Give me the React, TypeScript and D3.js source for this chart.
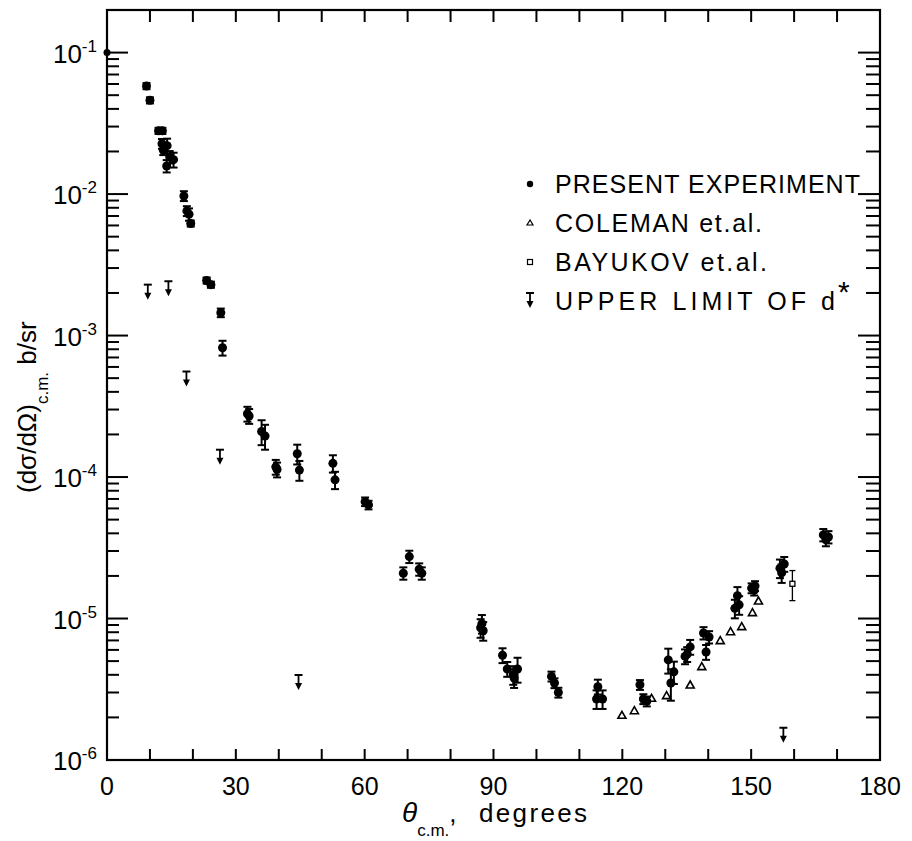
import React from "react";
import * as d3 from "d3";

// present experiment: angle (deg), cross section (b/sr), relative error
const presentTheta = [0, 9.2, 10.0, 12.0, 12.9, 12.8, 13.1, 14.0, 14.6, 15.5, 13.9, 17.9, 18.6, 19.1, 19.5, 23.2, 24.2, 26.5, 26.9, 32.7, 33.1, 36.0, 36.8, 39.3, 39.6, 44.3, 44.8, 52.6, 53.1, 60.1, 60.9, 69.0, 70.4, 72.7, 73.3, 87.0, 87.6, 87.3, 92.1, 93.2, 94.6, 95.6, 94.8, 103.5, 104.2, 105.1, 114.3, 114.0, 115.4, 124.1, 124.9, 125.7, 130.7, 131.3, 132.0, 134.6, 135.1, 135.8, 138.9, 140.2, 139.5, 146.2, 146.8, 147.2, 150.1, 150.9, 150.7, 156.7, 157.7, 157.1, 166.8, 168.0, 167.4];
const presentSigma = [0.1, 0.058, 0.046, 0.028, 0.028, 0.0227, 0.0205, 0.022, 0.0183, 0.0175, 0.0158, 0.0097, 0.0076, 0.0072, 0.0062, 0.00245, 0.00229, 0.00145, 0.00082, 0.00028, 0.00027, 0.00021, 0.000195, 0.000118, 0.000113, 0.000146, 0.000112, 0.000125, 0.0000955, 0.000067, 0.0000635, 0.0000209, 0.0000274, 0.0000223, 0.0000209, 0.0000086, 0.0000082, 0.0000092, 0.0000055, 0.0000044, 0.000004, 0.0000044, 0.0000038, 0.0000039, 0.0000035, 0.000003, 0.0000033, 0.0000027, 0.0000027, 0.0000034, 0.0000027, 0.0000026, 0.0000051, 0.0000035, 0.0000042, 0.0000054, 0.0000056, 0.0000063, 0.0000079, 0.0000074, 0.0000058, 0.0000118, 0.0000145, 0.0000125, 0.0000164, 0.000017, 0.0000158, 0.0000227, 0.0000243, 0.000021, 0.000039, 0.0000377, 0.000036];
const presentErr = [0, 0.05, 0.05, 0.05, 0.05, 0.08, 0.08, 0.12, 0.1, 0.12, 0.1, 0.08, 0.08, 0.1, 0.05, 0.05, 0.05, 0.07, 0.12, 0.12, 0.12, 0.2, 0.2, 0.12, 0.12, 0.16, 0.16, 0.14, 0.14, 0.07, 0.07, 0.1, 0.1, 0.1, 0.1, 0.15, 0.15, 0.15, 0.12, 0.12, 0.15, 0.2, 0.15, 0.08, 0.08, 0.08, 0.12, 0.15, 0.15, 0.08, 0.08, 0.08, 0.2, 0.25, 0.18, 0.12, 0.12, 0.12, 0.1, 0.1, 0.12, 0.15, 0.15, 0.15, 0.08, 0.08, 0.08, 0.15, 0.12, 0.15, 0.1, 0.1, 0.1];

const colemanTheta = [119.9, 122.8, 126.8, 130.3, 135.8, 138.5, 142.8, 145.2, 147.8, 150.3, 151.7];
const colemanSigma = [2.07e-6, 2.23e-6, 2.73e-6, 2.85e-6, 3.39e-6, 4.57e-6, 6.98e-6, 8.07e-6, 8.77e-6, 1.1e-5, 1.33e-5];

const bayukovTheta = [159.6];
const bayukovSigma = [1.76e-5];
const bayukovErr = [0.24];

const limitTheta = [9.5, 14.3, 18.5, 26.3, 44.6, 157.5];
const limitSigma = [2.29e-3, 2.42e-3, 5.57e-4, 1.56e-4, 3.99e-6, 1.69e-6];

const xTicks = d3.range(10, 180, 10);
const xLabels = [0, 30, 60, 90, 120, 150, 180];
const decades = [-1, -2, -3, -4, -5, -6];

const legendItems = ["PRESENT EXPERIMENT", "COLEMAN et.al.", "BAYUKOV et.al.", "UPPER LIMIT OF d"];
const legendWidths = [305, 207, 212, 280];

const font = "'Liberation Sans', Arial, sans-serif";

const Limit = ({ cx, cy }: { cx: number; cy: number }) => (
  <g>
    <line x1={cx - 4} x2={cx + 4} y1={cy} y2={cy} stroke="#000" strokeWidth={2} />
    <line x1={cx} x2={cx} y1={cy} y2={cy + 9} stroke="#000" strokeWidth={1.8} />
    <path d={`M${cx - 3.5},${cy + 8}L${cx + 3.5},${cy + 8}L${cx},${cy + 15}Z`} fill="#000" />
  </g>
);

const Tri = ({ cx, cy }: { cx: number; cy: number }) => (
  <path d={`M${cx},${cy - 4}L${cx - 4},${cy + 3}L${cx + 4},${cy + 3}Z`} fill="#fff" stroke="#000" strokeWidth={1.6} />
);

const App = () => {
  const x = d3.scaleLinear().domain([0, 180]).range([107, 880]);
  const y = d3.scaleLog().domain([1e-6, 0.2]).range([760, 10]);

  const minors: number[] = [];
  decades.forEach((k) => {
    d3.range(2, 10).forEach((j) => {
      const v = j * Math.pow(10, k);
      if (y(v) > 14) minors.push(v);
    });
  });

  return (
    <svg width={912} height={841} style={{ position: "absolute", left: 0, top: 0, background: "#fff" }} fontFamily={font}>
      <rect x={107} y={10} width={773} height={750} fill="none" stroke="#000" strokeWidth={2.2} />

      {xTicks.map((t) => (
        <g key={t}>
          <line x1={x(t)} x2={x(t)} y1={760} y2={749} stroke="#000" strokeWidth={2} />
          <line x1={x(t)} x2={x(t)} y1={10} y2={22} stroke="#000" strokeWidth={2} />
        </g>
      ))}
      {decades.map((k) => (
        <g key={k}>
          <line x1={107} x2={128} y1={y(Math.pow(10, k))} y2={y(Math.pow(10, k))} stroke="#000" strokeWidth={2} />
          <line x1={880} x2={858} y1={y(Math.pow(10, k))} y2={y(Math.pow(10, k))} stroke="#000" strokeWidth={2} />
          <text x={97} y={y(Math.pow(10, k)) + 10} textAnchor="end" fontSize={26}>
            10<tspan dy={-11} fontSize={17}>-{-k}</tspan>
          </text>
        </g>
      ))}
      {minors.map((v, i) => (
        <g key={i}>
          <line x1={107} x2={119} y1={y(v)} y2={y(v)} stroke="#000" strokeWidth={2} />
          <line x1={880} x2={866} y1={y(v)} y2={y(v)} stroke="#000" strokeWidth={2} />
        </g>
      ))}
      {xLabels.map((t) => (
        <text key={t} x={x(t)} y={795} textAnchor="middle" fontSize={25}>{t}</text>
      ))}

      <text x={402} y={822} fontSize={26}>
        <tspan fontStyle="italic" fontSize={28}>θ</tspan>
        <tspan dy={14} fontSize={17}>c.m.</tspan>
        <tspan dy={-14}>,</tspan>
      </text>
      <text x={479} y={822} fontSize={26} textLength={108} lengthAdjust="spacing">degrees</text>
      <text transform="translate(36,493) rotate(-90)" fontSize={26}>
        (dσ/dΩ)<tspan dy={12} fontSize={17}>c.m.</tspan>
        <tspan dy={-12}> b/sr</tspan>
      </text>

      {limitTheta.map((t, i) => (
        <Limit key={i} cx={x(t)} cy={y(limitSigma[i])} />
      ))}
      {colemanTheta.map((t, i) => (
        <Tri key={i} cx={x(t)} cy={y(colemanSigma[i])} />
      ))}
      {bayukovTheta.map((t, i) => {
        const cx = x(t);
        const cy = y(bayukovSigma[i]);
        const hi = y(bayukovSigma[i] * (1 + bayukovErr[i]));
        const lo = y(bayukovSigma[i] * (1 - bayukovErr[i]));
        return (
          <g key={i} stroke="#000" strokeWidth={1.3}>
            <line x1={cx} x2={cx} y1={hi} y2={lo} />
            <line x1={cx - 3} x2={cx + 3} y1={hi} y2={hi} />
            <line x1={cx - 3} x2={cx + 3} y1={lo} y2={lo} />
            <rect x={cx - 2.5} y={cy - 2.5} width={5} height={5} fill="#fff" />
          </g>
        );
      })}
      {presentTheta.map((t, i) => {
        const cx = x(t);
        const cy = y(presentSigma[i]);
        const e = presentErr[i];
        if (!e) return <circle key={i} cx={cx} cy={cy} r={3.5} fill="#000" />;
        const hi = y(presentSigma[i] * (1 + e));
        const lo = y(presentSigma[i] * (1 - e));
        return (
          <g key={i} stroke="#000" strokeWidth={2}>
            <line x1={cx} x2={cx} y1={hi} y2={lo} />
            <line x1={cx - 4} x2={cx + 4} y1={hi} y2={hi} />
            <line x1={cx - 4} x2={cx + 4} y1={lo} y2={lo} />
            <circle cx={cx} cy={cy} r={4.5} fill="#000" stroke="none" />
          </g>
        );
      })}

      {legendItems.map((s, i) => {
        const by = 193 + i * 39;
        const cy = by - 9;
        return (
          <g key={s}>
            {i === 0 && <circle cx={530} cy={cy} r={3.2} fill="#000" />}
            {i === 1 && <path d={`M530,${cy - 3}L527,${cy + 2}L533,${cy + 2}Z`} fill="#fff" stroke="#000" strokeWidth={1.2} />}
            {i === 2 && <rect x={527.5} y={cy - 2.5} width={5} height={5} fill="#fff" stroke="#000" strokeWidth={1.2} />}
            {i === 3 && <Limit cx={530} cy={cy - 8} />}
            <text x={555} y={by} fontSize={25} textLength={legendWidths[i]} lengthAdjust="spacing">{s}</text>
            {i === 3 && <text x={838} y={by - 8} fontSize={30}>*</text>}
          </g>
        );
      })}
    </svg>
  );
};

export default App;
